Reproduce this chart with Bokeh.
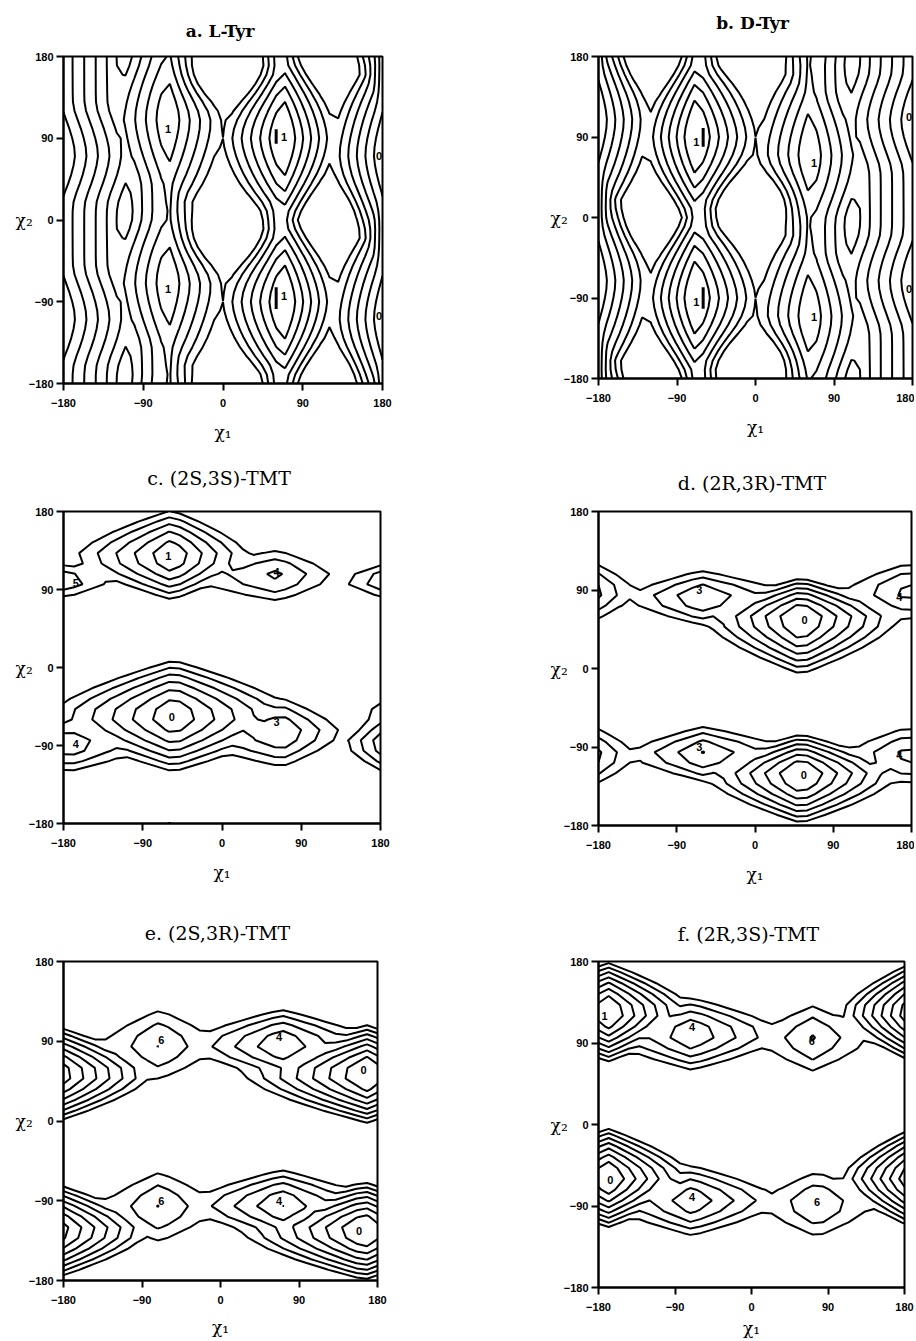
import numpy as np
import contourpy
from bokeh.plotting import figure
from bokeh.layouts import column, row
from bokeh.models import FixedTicker, LinearAxis
from bokeh.core.properties import value
from bokeh.embed import file_html
from bokeh.resources import INLINE

TICKS = [-180, -90, 0, 90, 180]
X_TITLE = "χ₁"
Y_TITLE = "χ₂"

# ---------------- data ----------------
# wells: chi1, chi2 (None = whole column), energy,
#        width toward -chi1, width toward +chi1, width toward -chi2, width toward +chi2
# bumps: chi1, chi2, height, width chi1, width chi2

A_TITLE = "a.  L-Tyr"
A_LEVELS = [1, 2, 3, 4, 5, 6]
A_WELLS = [
    (180, None, 1.2, 5, 13, 0, 0),
    (-62, None, 2.5, 12, 8, 0, 0),
    (65, None, 2.7, 8, 7, 0, 0),
    (180, 72, 0.0, 9.7, 13, 45, 45),
    (-62, 112, 0.9, 12, 12, 50, 50),
    (68, 90, -0.5, 10.46, 9, 35, 35),
]
A_BUMPS = [(0, -15, 3.5, 40, 30), (122, 0, 2.5, 30, 30), (-110, 0, 0.3, 15, 30)]
A_LAB_CHI1 = [-62, -62, 69, 69, 176, 176]
A_LAB_CHI2 = [100, -76, 91, -84, 71, -106]
A_LAB_TEXT = ["1", "1", "1", "1", "0", "0"]
A_TICK_CHI1 = [60, 60]
A_TICK_CHI2_FROM = [84, -98]
A_TICK_CHI2_TO = [100, -74]

B_TITLE = "b.  D-Tyr"
B_LEVELS = [1, 2, 3, 4, 5, 6]
B_WELLS = [
    (-180, None, 1.2, 13, 5, 0, 0),
    (62, None, 2.5, 8, 12, 0, 0),
    (-65, None, 2.7, 7, 8, 0, 0),
    (-180, -72, 0.0, 13, 9.7, 45, 45),
    (62, -112, 0.9, 12, 12, 50, 50),
    (-68, -90, -0.5, 9, 10.46, 35, 35),
]
B_BUMPS = [(0, 15, 3.5, 40, 30), (-122, 0, 2.5, 30, 30), (110, 0, 0.3, 15, 30)]
B_LAB_CHI1 = [-68, -68, 67, 67, 176, 176]
B_LAB_CHI2 = [84, -94, 61, -111, 112, -80]
B_LAB_TEXT = ["1", "1", "1", "1", "0", "0"]
B_TICK_CHI1 = [-60, -60]
B_TICK_CHI2_FROM = [79, -102]
B_TICK_CHI2_TO = [100, -78]

C_TITLE = "c.  (2S,3S)-TMT"
C_LEVELS = [1, 2, 3, 4, 5, 6]
C_WELLS = [
    (-57, 128, 0.9, 21, 17, 17.4, 18.7),
    (63, 106, 3.7, 45, 26, 17, 17),
    (-178, 100, 4.0, 21, 24, 12, 12),
    (-55, -56, -0.1, 23, 23, 20, 20),
    (68, -75, 2.9, 38, 21, 19, 19),
    (-176, -88, 3.0, 14, 30, 16, 16),
]
C_LAB_CHI1 = [-61, 62, -166, -57, 62, -166]
C_LAB_CHI2 = [129, 110, 97, -57, -63, -88]
C_LAB_TEXT = ["1", "4", "5", "0", "3", "4"]

D_TITLE = "d.  (2R,3R)-TMT"
D_LEVELS = [1, 2, 3, 4, 5, 6]
D_WELLS = [
    (53, 57, -0.5, 17, 17, 19, 14),
    (-62, 81, 2.9, 27, 34, 15, 15),
    (176, 88, 3.5, 28, 18, 18, 18),
    (53, -122, -0.5, 17, 17, 16.5, 14),
    (-60, -98, 2.9, 27, 34, 15, 15),
    (176, -100, 3.5, 28, 18, 18, 18),
]
D_LAB_CHI1 = [-64, 57, 166, -64, 56, 166]
D_LAB_CHI2 = [90, 56, 82, -90, -122, -99]
D_LAB_TEXT = ["3", "0", "4", "3", "0", "4"]

E_TITLE = "e.  (2S,3R)-TMT"
E_LEVELS = [1, 2, 3, 4, 5, 6, 7]
E_WELLS = [
    (168, 53, -0.5, 18.7, 15, 15, 15),
    (70, 86, 2.9, 26, 26, 16, 16),
    (-70, 86, 4.9, 30, 30, 24, 24),
    (165, -124, -0.5, 18.7, 15, 15, 15),
    (70, -95, 2.9, 26, 26, 16, 16),
    (-70, -97, 4.9, 30, 30, 24, 24),
]
E_LAB_CHI1 = [-68, 67, 164, -68, 67, 159]
E_LAB_CHI2 = [91, 95, 58, -90, -90, -124]
E_LAB_TEXT = ["6", "4", "0", "6", "4", "0"]

F_TITLE = "f.  (2R,3S)-TMT"
F_LEVELS = [1, 2, 3, 4, 5, 6, 7]
F_WELLS = [
    (-170, 124, -0.5, 11, 13.6, 15, 15),
    (-70, 100, 2.9, 26, 26, 16, 16),
    (72, 95, 4.9, 30, 30, 22, 22),
    (-170, -59, -0.5, 11, 13.6, 15, 15),
    (-70, -84, 3.1, 26, 26, 16, 16),
    (77, -88, 4.9, 30, 30, 22, 22),
]
F_LAB_CHI1 = [-173, -70, 71, -166, -70, 77]
F_LAB_CHI2 = [120, 108, 92, -61, -80, -86]
F_LAB_TEXT = ["1", "4", "6", "0", "4", "6"]


# ---------------- model and drawing ----------------
def wrap(d, period):
    return (d + period / 2.0) % period - period / 2.0


def energy_grid(wells, bumps, period2, p2, step, tau=0.15):
    g = np.arange(-180.0, 180.0 + step / 2.0, step)
    X, Y = np.meshgrid(g, g)
    terms = []
    for c1, c2, e, w1m, w1p, w2m, w2p in wells:
        d1 = wrap(X - c1, 360.0)
        t = e + np.where(d1 < 0, -d1 / w1m, d1 / w1p)
        if c2 is not None:
            d2 = wrap(Y - c2, period2)
            t = t + np.where(d2 < 0, -d2 / w2m, d2 / w2p) ** p2
        terms.append(t)
    T = np.array(terms)
    m = T.min(axis=0)
    E = m - tau * np.log(np.exp(-(T - m) / tau).sum(axis=0))
    for c1, c2, h, w1, w2 in bumps:
        d1 = wrap(X - c1, 360.0)
        d2 = wrap(Y - c2, period2)
        E = E + h * np.exp(-(d1 / w1) ** 2 - (d2 / w2) ** 2)
    return g, E


def contour_lines(g, E, levels):
    gen = contourpy.contour_generator(x=g, y=g, z=E, line_type="Separate")
    xs, ys = [], []
    for lev in levels:
        for seg in gen.lines(lev):
            xs.append(seg[:, 0].tolist())
            ys.append(seg[:, 1].tolist())
    return xs, ys


def make_panel(title, bold, title_size, title_gap, g, E, levels, lab_x, lab_y, lab_t,
               left, top, fw, fh, width, height, xlab_standoff, ticks=None):
    p = figure(width=width, height=height, frame_width=fw, frame_height=fh,
               x_range=(-180, 180), y_range=(-180, 180),
               output_backend="svg", toolbar_location=None,
               min_border_left=left, min_border_top=top,
               min_border_right=width - left - fw,
               min_border_bottom=height - top - fh,
               title=None)
    p.grid.visible = False
    p.outline_line_color = "black"
    p.outline_line_width = 2
    p.outline_line_alpha = 1.0
    p.background_fill_color = "white"
    p.border_fill_color = "white"
    for ax in (p.xaxis[0], p.yaxis[0]):
        ax.ticker = FixedTicker(ticks=TICKS)
        ax.major_tick_out = 7
        ax.major_tick_in = 0
        ax.minor_tick_line_color = None
        ax.axis_line_width = 2
        ax.major_tick_line_width = 2
        ax.major_label_text_font = "Liberation Sans"
        ax.major_label_text_font_style = "bold"
        ax.major_label_text_font_size = "11px"
        ax.major_label_text_color = "black"
        ax.axis_label_text_font = "DejaVu Serif"
        ax.axis_label_text_font_size = "17px"
        ax.axis_label_text_font_style = "normal"
        ax.axis_label_text_color = "black"
    p.xaxis.major_label_standoff = 8
    p.yaxis.major_label_standoff = 3
    p.xaxis.axis_label = X_TITLE
    p.yaxis.axis_label = Y_TITLE
    p.xaxis.axis_label_standoff = xlab_standoff
    p.yaxis.axis_label_standoff = -7
    p.yaxis.axis_label_orientation = "horizontal"

    top_axis = LinearAxis(ticker=FixedTicker(ticks=[]), axis_label=title,
                          axis_line_color=None, major_tick_out=0, major_tick_in=0,
                          minor_tick_out=0, minor_tick_in=0, major_label_standoff=0,
                          axis_label_standoff=title_gap,
                          axis_label_text_font="DejaVu Serif",
                          axis_label_text_font_size=title_size,
                          axis_label_text_font_style="bold" if bold else "normal",
                          axis_label_text_color="black")
    p.add_layout(top_axis, "above")

    xs, ys = contour_lines(g, E, levels)
    p.multi_line(xs, ys, line_color="black", line_width=2)
    p.text(lab_x, lab_y, text=lab_t, text_font=value("Liberation Sans"),
           text_font_style="bold", text_font_size="11px",
           text_align="center", text_baseline="middle", text_color="black")
    if ticks is not None:
        tx, ty0, ty1 = ticks
        p.segment(x0=tx, y0=ty0, x1=tx, y1=ty1, line_color="black", line_width=3)
    return p


ga, Ea = energy_grid(A_WELLS, A_BUMPS, 180.0, 1.55, 10)
gb, Eb = energy_grid(B_WELLS, B_BUMPS, 180.0, 1.55, 10)
gc, Ec = energy_grid(C_WELLS, [], 360.0, 1.55, 12)
gd, Ed = energy_grid(D_WELLS, [], 360.0, 1.55, 12)
ge, Ee = energy_grid(E_WELLS, [], 360.0, 1.55, 12)
gf, Ef = energy_grid(F_WELLS, [], 360.0, 1.55, 12)

pa = make_panel(A_TITLE, True, "17px", 16, ga, Ea, A_LEVELS, A_LAB_CHI1, A_LAB_CHI2, A_LAB_TEXT,
                63, 56, 319, 327, 458, 448, 12,
                (A_TICK_CHI1, A_TICK_CHI2_FROM, A_TICK_CHI2_TO))
pb = make_panel(B_TITLE, True, "17px", 24, gb, Eb, B_LEVELS, B_LAB_CHI1, B_LAB_CHI2, B_LAB_TEXT,
                140, 56, 314, 322, 456, 448, 12,
                (B_TICK_CHI1, B_TICK_CHI2_FROM, B_TICK_CHI2_TO))
pc = make_panel(C_TITLE, False, "19px", 23, gc, Ec, C_LEVELS, C_LAB_CHI1, C_LAB_CHI2, C_LAB_TEXT,
                63, 63, 317, 312, 458, 450, 12)
pd = make_panel(D_TITLE, False, "19px", 18, gd, Ed, D_LEVELS, D_LAB_CHI1, D_LAB_CHI2, D_LAB_TEXT,
                140, 63, 313, 314, 456, 450, 12)
pe = make_panel(E_TITLE, False, "19px", 18, ge, Ee, E_LEVELS, E_LAB_CHI1, E_LAB_CHI2, E_LAB_TEXT,
                63, 63, 314, 319, 458, 442, 10)
pf = make_panel(F_TITLE, False, "19px", 17, gf, Ef, F_LEVELS, F_LAB_CHI1, F_LAB_CHI2, F_LAB_TEXT,
                140, 63, 306, 326, 456, 442, 4)

layout = column(row(pa, pb), row(pc, pd), row(pe, pf))
open("out.html", "w").write(file_html(layout, INLINE))
